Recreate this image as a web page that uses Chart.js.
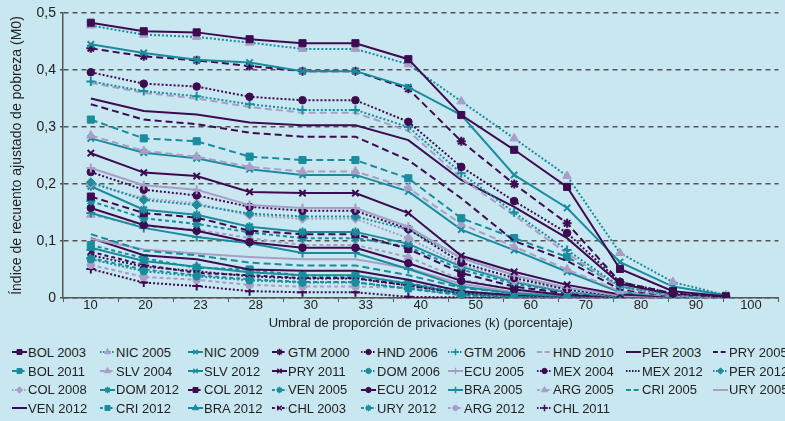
<!DOCTYPE html>
<html>
<head>
<meta charset="utf-8">
<script src="https://cdn.jsdelivr.net/npm/chart.js@4.4.1/dist/chart.umd.min.js"></script>
<style>
  body { margin: 0; background: #c9e7f0; font-family: "Liberation Sans", Arial, sans-serif; }
  #wrap { position: relative; width: 785px; height: 421px; overflow: hidden; }
  #chart { position: absolute; left: 0; top: 0; }
  #legend {
    position: absolute; left: 12px; top: 343px;
    display: grid;
    grid-template-columns: 88px 88px 84px 89px 87px 89px 89px 87px 72px;
    grid-auto-rows: 18.7px;
    font-size: 13px; color: #222;
  }
  .item { display: flex; align-items: center; white-space: nowrap; }
  .item canvas { width: 16px; height: 12px; margin-right: 0; }
</style>
</head>
<body>
<div id="wrap">
  <canvas id="chart" width="785" height="335"></canvas>
  <div id="legend"></div>
</div>
<script>
// k thresholds (category labels on the x axis)
const kLabels = ['10', '20', '23', '28', '30', '33', '40', '50', '60', '70', '80', '90', '100'];

// M0 per country-year, one value per k threshold
const bol2003 = [0.483, 0.468, 0.466, 0.454, 0.447, 0.447, 0.419, 0.321, 0.26, 0.195, 0.051, 0.012, 0.003];
const nic2005 = [0.478, 0.462, 0.458, 0.448, 0.437, 0.437, 0.41, 0.345, 0.28, 0.214, 0.079, 0.028, 0.005];
const nic2009 = [0.445, 0.43, 0.418, 0.413, 0.398, 0.398, 0.37, 0.321, 0.216, 0.158, 0.063, 0.02, 0.005];
const gtm2000 = [0.438, 0.424, 0.417, 0.407, 0.398, 0.398, 0.367, 0.275, 0.2, 0.131, 0.028, 0.008, 0.002];
const hnd2006 = [0.396, 0.376, 0.371, 0.353, 0.347, 0.347, 0.309, 0.23, 0.17, 0.114, 0.028, 0.008, 0.002];
const gtm2006 = [0.38, 0.363, 0.354, 0.34, 0.33, 0.33, 0.3, 0.219, 0.15, 0.084, 0.02, 0.005, 0.001];
const hnd2010 = [0.377, 0.36, 0.35, 0.335, 0.325, 0.325, 0.293, 0.21, 0.145, 0.078, 0.018, 0.004, 0.001];
const per2003 = [0.35, 0.328, 0.322, 0.308, 0.303, 0.303, 0.277, 0.207, 0.16, 0.105, 0.025, 0.006, 0.001];
const pry2005 = [0.34, 0.313, 0.305, 0.29, 0.283, 0.283, 0.242, 0.175, 0.1, 0.065, 0.015, 0.004, 0.001];
const bol2011 = [0.313, 0.28, 0.275, 0.248, 0.242, 0.242, 0.21, 0.14, 0.105, 0.072, 0.02, 0.004, 0.001];
const slv2004 = [0.285, 0.258, 0.248, 0.23, 0.222, 0.222, 0.193, 0.13, 0.09, 0.05, 0.012, 0.003, 0.001];
const slv2012 = [0.28, 0.255, 0.245, 0.226, 0.216, 0.216, 0.187, 0.12, 0.084, 0.046, 0.01, 0.003, 0.001];
const pry2011 = [0.254, 0.22, 0.214, 0.186, 0.184, 0.184, 0.149, 0.074, 0.046, 0.023, 0.006, 0.002, 0];
const dom2006 = [0.068, 0.047, 0.038, 0.031, 0.027, 0.027, 0.017, 0.006, 0.002, 0.001, 0, 0, 0];
const ecu2005 = [0.228, 0.198, 0.19, 0.163, 0.158, 0.158, 0.125, 0.07, 0.04, 0.018, 0.004, 0.001, 0];
const mex2004 = [0.221, 0.19, 0.18, 0.16, 0.153, 0.153, 0.121, 0.062, 0.035, 0.015, 0.003, 0.001, 0];
const mex2012 = [0.075, 0.055, 0.047, 0.038, 0.034, 0.034, 0.022, 0.008, 0.003, 0.001, 0, 0, 0];
const per2012 = [0.203, 0.172, 0.163, 0.148, 0.143, 0.143, 0.12, 0.07, 0.04, 0.015, 0.003, 0.001, 0];
const col2008 = [0.2, 0.175, 0.166, 0.145, 0.139, 0.139, 0.105, 0.058, 0.03, 0.012, 0.003, 0.001, 0];
const dom2012 = [0.196, 0.155, 0.146, 0.125, 0.116, 0.116, 0.095, 0.055, 0.028, 0.01, 0.002, 0, 0];
const col2012 = [0.178, 0.149, 0.141, 0.118, 0.112, 0.112, 0.086, 0.044, 0.02, 0.008, 0.002, 0, 0];
const ven2005 = [0.17, 0.14, 0.13, 0.115, 0.105, 0.105, 0.09, 0.05, 0.025, 0.01, 0.002, 0, 0];
const ecu2012 = [0.158, 0.128, 0.118, 0.098, 0.088, 0.088, 0.061, 0.03, 0.015, 0.005, 0.001, 0, 0];
const bra2005 = [0.149, 0.123, 0.107, 0.096, 0.079, 0.079, 0.051, 0.02, 0.008, 0.003, 0.001, 0, 0];
const arg2005 = [0.146, 0.126, 0.12, 0.105, 0.093, 0.093, 0.072, 0.032, 0.015, 0.006, 0.001, 0, 0];
const cri2005 = [0.112, 0.083, 0.075, 0.062, 0.057, 0.057, 0.04, 0.018, 0.008, 0.003, 0.001, 0, 0];
const ury2005 = [0.104, 0.085, 0.078, 0.072, 0.068, 0.068, 0.052, 0.025, 0.01, 0.004, 0.001, 0, 0];
const ven2012 = [0.105, 0.075, 0.068, 0.05, 0.048, 0.048, 0.032, 0.012, 0.005, 0.002, 0, 0, 0];
const cri2012 = [0.093, 0.07, 0.053, 0.05, 0.039, 0.039, 0.026, 0.01, 0.004, 0.001, 0, 0, 0];
const bra2012 = [0.088, 0.065, 0.055, 0.045, 0.04, 0.04, 0.025, 0.008, 0.003, 0.001, 0, 0, 0];
const chl2003 = [0.081, 0.058, 0.044, 0.04, 0.035, 0.035, 0.022, 0.008, 0.003, 0.001, 0, 0, 0];
const ury2012 = [0.07, 0.05, 0.04, 0.033, 0.028, 0.028, 0.016, 0.005, 0.002, 0, 0, 0, 0];
const arg2012 = [0.058, 0.037, 0.032, 0.023, 0.02, 0.02, 0.018, 0.005, 0.002, 0, 0, 0, 0];
const chl2011 = [0.051, 0.027, 0.021, 0.012, 0.01, 0.01, 0.002, 0.001, 0, 0, 0, 0, 0];

const PURPLE = '#3d0b50';
const TEAL = '#1a8c9d';
const LAVENDER = '#a99ec6';
const SOLID = [];
const DASH = [7, 4];
const SHORT = [4, 3];
const DOT = [2, 2];

// legend order, row by row: label, values, line colour, dash, marker, marker colour
const series = [
  ['BOL 2003', bol2003, PURPLE, SOLID, 'rect'],
  ['NIC 2005', nic2005, TEAL, DOT, 'triangle', LAVENDER],
  ['NIC 2009', nic2009, TEAL, SOLID, 'crossRot'],
  ['GTM 2000', gtm2000, PURPLE, DASH, 'star'],
  ['HND 2006', hnd2006, PURPLE, DOT, 'circle'],
  ['GTM 2006', gtm2006, TEAL, DOT, 'cross'],
  ['HND 2010', hnd2010, LAVENDER, DASH, false],
  ['PER 2003', per2003, PURPLE, SOLID, false],
  ['PRY 2005', pry2005, PURPLE, DASH, false],
  ['BOL 2011', bol2011, TEAL, DASH, 'rect'],
  ['SLV 2004', slv2004, LAVENDER, DASH, 'triangle'],
  ['SLV 2012', slv2012, TEAL, SOLID, 'crossRot'],
  ['PRY 2011', pry2011, PURPLE, SOLID, 'crossRot'],
  ['DOM 2006', dom2006, TEAL, DOT, 'circle'],
  ['ECU 2005', ecu2005, LAVENDER, SOLID, 'cross'],
  ['MEX 2004', mex2004, PURPLE, DOT, 'circle'],
  ['MEX 2012', mex2012, PURPLE, DOT, false],
  ['PER 2012', per2012, TEAL, DOT, 'rectRot'],
  ['COL 2008', col2008, LAVENDER, DOT, 'rectRot'],
  ['DOM 2012', dom2012, TEAL, SOLID, 'star'],
  ['COL 2012', col2012, PURPLE, DASH, 'rect'],
  ['VEN 2005', ven2005, TEAL, SHORT, 'star'],
  ['ECU 2012', ecu2012, PURPLE, SOLID, 'circle'],
  ['BRA 2005', bra2005, TEAL, SOLID, 'cross'],
  ['ARG 2005', arg2005, LAVENDER, SHORT, 'triangle'],
  ['CRI 2005', cri2005, TEAL, DASH, false],
  ['URY 2005', ury2005, LAVENDER, SOLID, false],
  ['VEN 2012', ven2012, PURPLE, SOLID, false],
  ['CRI 2012', cri2012, TEAL, SHORT, 'rect'],
  ['BRA 2012', bra2012, TEAL, SOLID, 'triangle'],
  ['CHL 2003', chl2003, PURPLE, SHORT, 'crossRot'],
  ['URY 2012', ury2012, TEAL, SHORT, 'star'],
  ['ARG 2012', arg2012, LAVENDER, SHORT, 'circle'],
  ['CHL 2011', chl2011, PURPLE, DOT, 'cross'],
];

const MARKER_SIZE = { rect: 5, rectRot: 4.5, triangle: 5, circle: 3.8, cross: 4.5, crossRot: 4.5, star: 4.5 };
const FONT = { family: '"Liberation Sans", Arial, sans-serif', size: 13 };
const FONT_Y = { family: '"Liberation Sans", Arial, sans-serif', size: 14 };

function buildDatasets() {
  return series.map(([label, values, color, dash, marker, markerColor]) => ({
    label,
    data: values.map((v, i) => ({ x: i, y: v })),
    xAxisID: 'xp',
    borderColor: color,
    borderWidth: 2,
    borderDash: dash,
    tension: 0,
    pointStyle: marker || 'circle',
    pointRadius: marker ? MARKER_SIZE[marker] : 0,
    pointBackgroundColor: markerColor || color,
    pointBorderColor: markerColor || color,
    pointBorderWidth: marker && marker.startsWith('cross') || marker === 'star' ? 2 : 1,
  }));
}

function renderLegend() {
  const el = document.getElementById('legend');
  series.forEach(([label, , color, dash, marker, markerColor]) => {
    const item = document.createElement('div');
    item.className = 'item';
    const c = document.createElement('canvas');
    c.width = 16;
    c.height = 12;
    const ctx = c.getContext('2d');
    ctx.strokeStyle = color;
    ctx.lineWidth = 2;
    ctx.setLineDash(dash.map((d) => Math.max(1.5, d * 0.7)));
    ctx.beginPath();
    ctx.moveTo(0, 6);
    ctx.lineTo(15, 6);
    ctx.stroke();
    ctx.setLineDash([]);
    if (marker) {
      ctx.fillStyle = markerColor || color;
      ctx.strokeStyle = markerColor || color;
      ctx.lineWidth = marker.startsWith('cross') || marker === 'star' ? 1.5 : 1;
      Chart.helpers.drawPoint(ctx, { pointStyle: marker, radius: MARKER_SIZE[marker] * 0.7, rotation: 0, borderWidth: ctx.lineWidth }, 7.5, 6);
    }
    const span = document.createElement('span');
    span.textContent = label;
    item.appendChild(c);
    item.appendChild(span);
    el.appendChild(item);
  });
}

function renderChart() {
  new Chart(document.getElementById('chart'), {
    type: 'line',
    data: { labels: kLabels, datasets: buildDatasets() },
    options: {
      responsive: false,
      animation: false,
      devicePixelRatio: 1,
      layout: { padding: { left: 6, right: 2, top: 13, bottom: 0 } },
      plugins: { legend: { display: false }, tooltip: { enabled: false } },
      scales: {
        x: {
          type: 'category',
          labels: kLabels,
          offset: true,
          grid: { offset: true, drawOnChartArea: false, tickLength: 4, color: '#555' },
          border: { color: '#555', width: 1.5 },
          ticks: { font: FONT, color: '#222', padding: -4, maxRotation: 0, autoSkip: false },
          title: {
            display: true,
            text: 'Umbral de proporción de privaciones (k) (porcentaje)',
            font: FONT,
            color: '#222',
            padding: { top: 1, bottom: 4 },
          },
          afterFit: (s) => { s.height = 37; },
        },
        xp: { type: 'linear', display: false, min: -0.526, max: 12.995 },
        y: {
          min: 0,
          max: 0.5,
          ticks: {
            stepSize: 0.1,
            font: FONT_Y,
            color: '#222',
            padding: 4,
            callback: (v) => (v === 0 ? '0' : v.toFixed(1).replace('.', ',')),
          },
          grid: { color: '#555', lineWidth: 1.5, tickLength: 3 },
          border: { color: '#555', width: 1.5, dash: [5, 4] },
          title: {
            display: true,
            text: 'Índice de recuento ajustado de pobreza (M0)',
            font: FONT_Y,
            color: '#222',
            padding: { top: 3, bottom: 2 },
          },
          afterFit: (s) => { s.width = 57; },
        },
      },
    },
  });
}

renderChart();
renderLegend();
</script>
</body>
</html>
